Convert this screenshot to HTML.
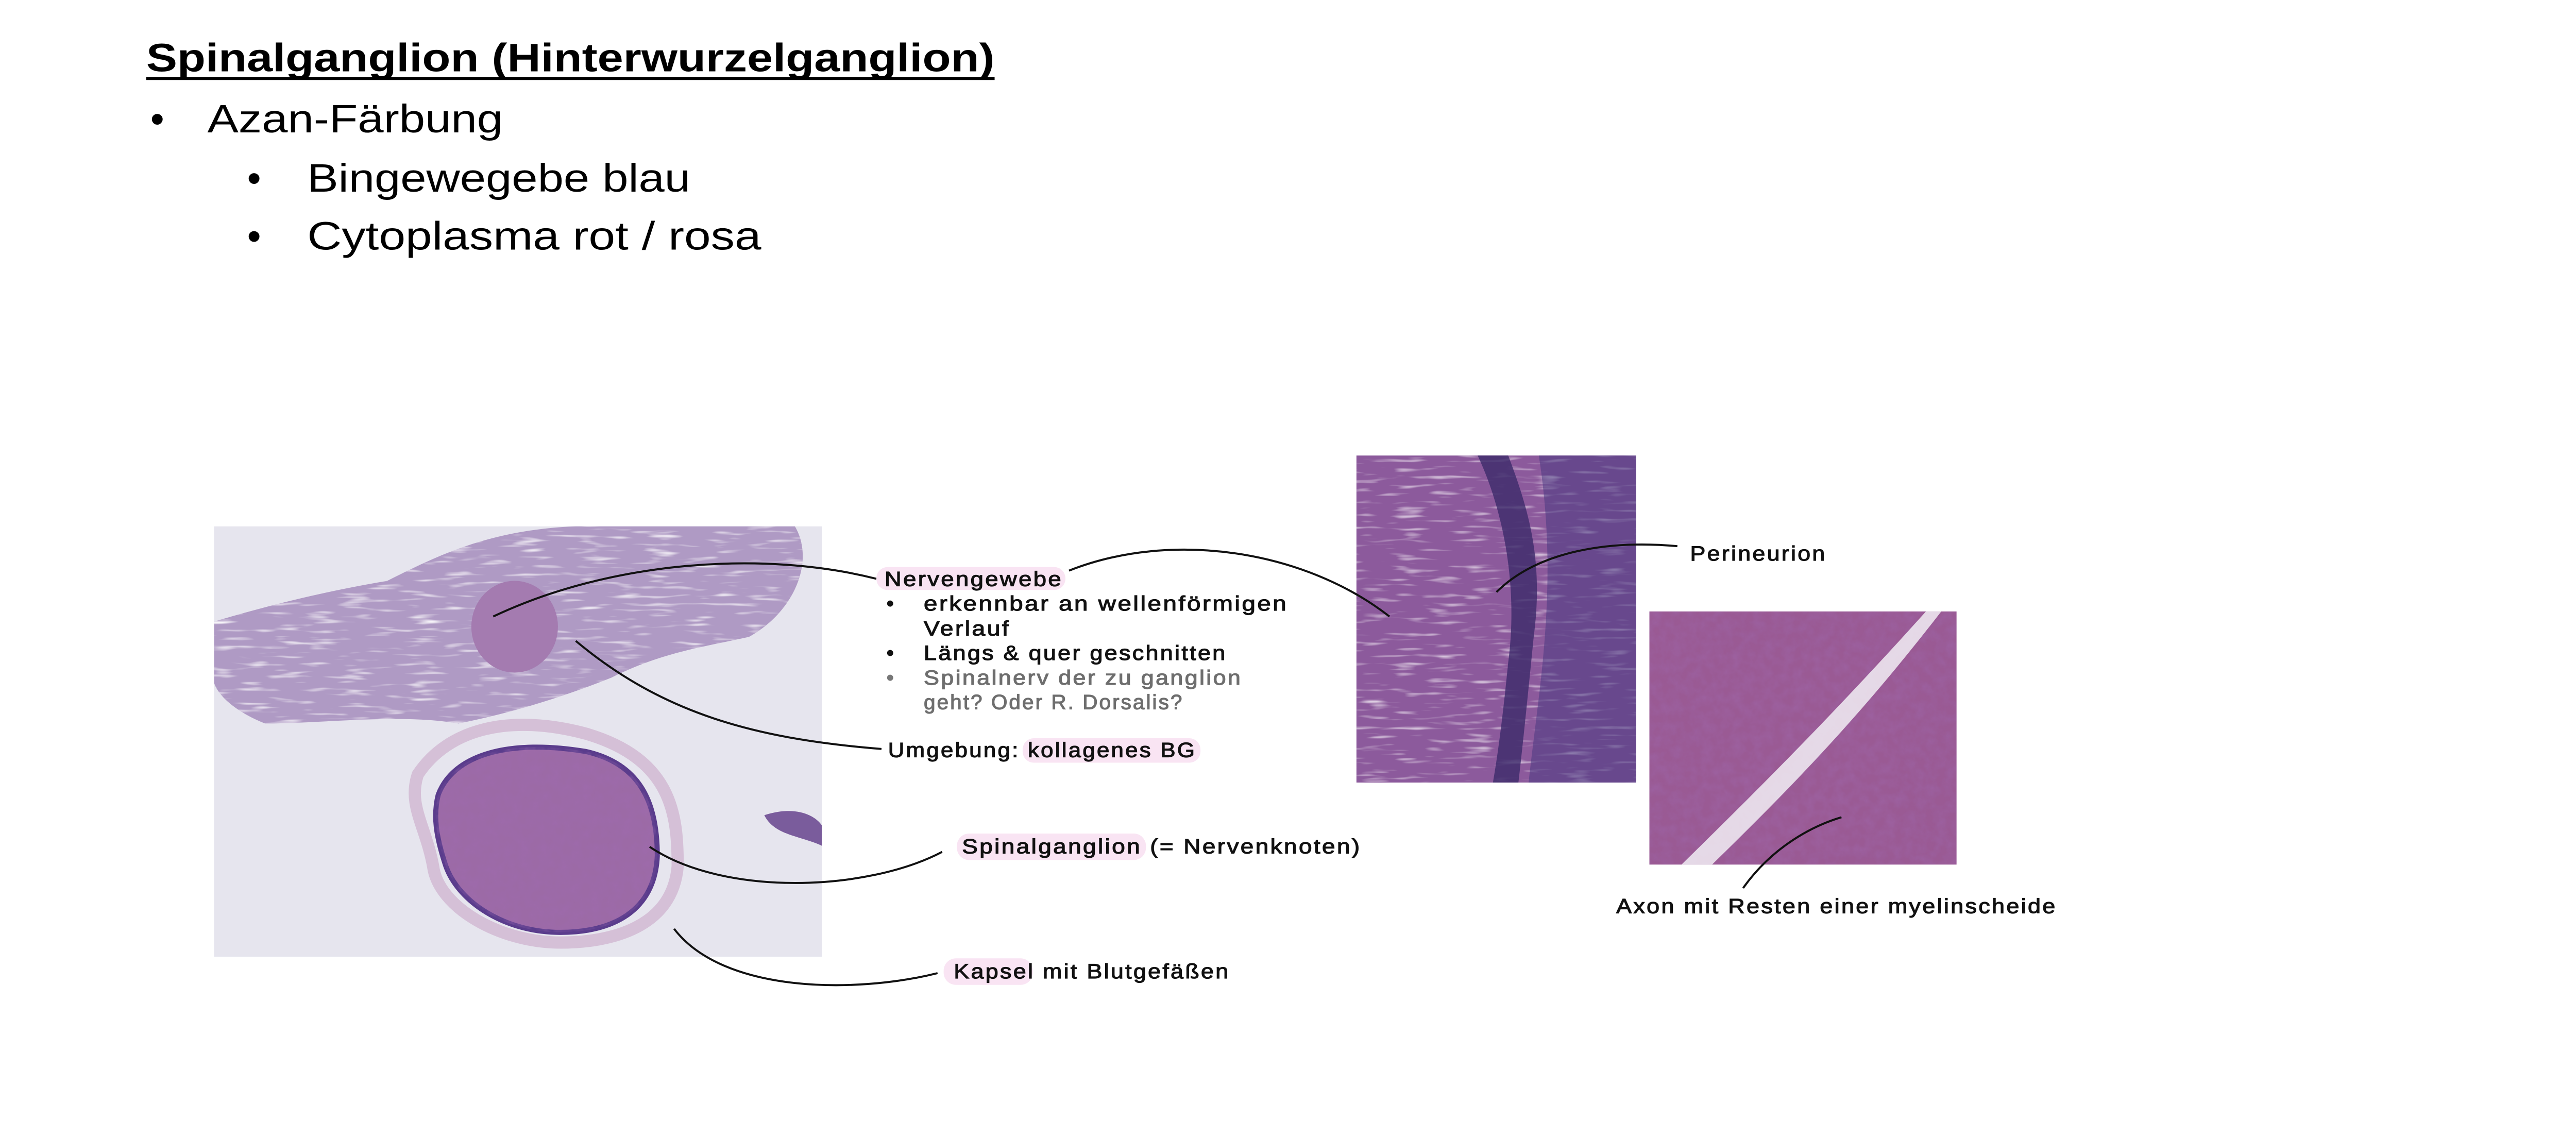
<!DOCTYPE html>
<html><head><meta charset="utf-8">
<style>
html,body{margin:0;padding:0;background:#fff;}
svg{display:block;}
.hand{font-family:"Liberation Sans",sans-serif;font-size:40px;letter-spacing:3px;fill:#111;stroke:#111;stroke-width:1.2px;}
</style></head>
<body>
<svg width="5034" height="2176" viewBox="0 0 5034 2176" xmlns="http://www.w3.org/2000/svg">
<defs>
  <filter id="tex" x="0" y="0" width="100%" height="100%">
    <feTurbulence type="fractalNoise" baseFrequency="0.05" numOctaves="3" seed="3"/>
    <feColorMatrix type="matrix" values="0 0 0 0 0.35  0 0 0 0 0.15  0 0 0 0 0.45  0 0 0 1.2 -0.35"/>
    <feComposite in2="SourceGraphic" operator="in"/>
  </filter>
  <filter id="streak" x="0" y="0" width="100%" height="100%">
    <feTurbulence type="fractalNoise" baseFrequency="0.015 0.12" numOctaves="2" seed="7"/>
    <feColorMatrix type="matrix" values="0 0 0 0 1  0 0 0 0 1  0 0 0 0 1  0 0 0 -3 1.3"/>
    <feComposite in2="SourceGraphic" operator="in"/>
  </filter>
  <clipPath id="c1"><rect x="420" y="1033" width="1193" height="845"/></clipPath>
  <clipPath id="c2"><rect x="2662" y="894" width="549" height="642"/></clipPath>
  <clipPath id="c3"><rect x="3237" y="1200" width="603" height="497"/></clipPath>
</defs>
<g transform="scale(0.989)">
<!-- Title and bullets -->
<text x="287" y="140" font-family="Liberation Sans, sans-serif" font-weight="bold" font-size="78" textLength="1665" lengthAdjust="spacingAndGlyphs" fill="#000">Spinalganglion (Hinterwurzelganglion)</text>
<rect x="287" y="151" width="1665" height="6" fill="#000"/>
<text x="295" y="260" font-family="Liberation Sans, sans-serif" font-size="78">•</text>
<text x="407" y="260" font-family="Liberation Sans, sans-serif" font-size="78" textLength="580" lengthAdjust="spacingAndGlyphs">Azan-Färbung</text>
<text x="485" y="376" font-family="Liberation Sans, sans-serif" font-size="78">•</text>
<text x="603" y="376" font-family="Liberation Sans, sans-serif" font-size="78" textLength="752" lengthAdjust="spacingAndGlyphs">Bingewegebe blau</text>
<text x="485" y="490" font-family="Liberation Sans, sans-serif" font-size="78">•</text>
<text x="603" y="490" font-family="Liberation Sans, sans-serif" font-size="78" textLength="891" lengthAdjust="spacingAndGlyphs">Cytoplasma rot / rosa</text>

<!-- Left micrograph -->
<g clip-path="url(#c1)">
  <rect x="420" y="1033" width="1193" height="845" fill="#e6e5ee"/>
  <path d="M420 1220 C520 1190 640 1160 760 1140 C860 1090 960 1040 1130 1033 L1560 1033 C1600 1100 1560 1200 1470 1250 C1380 1270 1300 1280 1200 1330 C1100 1370 1000 1400 900 1420 C780 1400 640 1420 520 1420 C470 1400 430 1370 420 1340 Z" fill="#8a68a8" opacity="0.6"/>
  <path d="M420 1220 C520 1190 640 1160 760 1140 C860 1090 960 1040 1130 1033 L1560 1033 C1600 1100 1560 1200 1470 1250 C1380 1270 1300 1280 1200 1330 C1100 1370 1000 1400 900 1420 C780 1400 640 1420 520 1420 C470 1400 430 1370 420 1340 Z" fill="#fff" filter="url(#streak)" opacity="0.9"/>
  <ellipse cx="1010" cy="1230" rx="85" ry="90" fill="#a47bb0"/>
  <path d="M820 1520 C880 1430 1000 1400 1150 1440 C1320 1490 1330 1600 1330 1700 C1320 1820 1200 1850 1100 1850 C980 1850 860 1780 850 1700 C835 1620 800 1580 820 1520 Z" fill="none" stroke="#c9a6c8" stroke-width="24" opacity="0.6"/>
  <path d="M860 1560 C890 1480 1000 1450 1150 1475 C1260 1500 1290 1580 1290 1680 C1285 1790 1200 1830 1100 1830 C990 1830 900 1770 875 1700 C855 1640 850 1600 860 1560 Z" fill="#9c6aa6" stroke="#5a3c8c" stroke-width="10"/>
  <path d="M860 1560 C890 1480 1000 1450 1150 1475 C1260 1500 1290 1580 1290 1680 C1285 1790 1200 1830 1100 1830 C990 1830 900 1770 875 1700 C855 1640 850 1600 860 1560 Z" fill="#000" filter="url(#tex)" opacity="0.5"/>
  <path d="M1500 1600 C1560 1580 1600 1600 1613 1620 L1613 1660 C1570 1640 1520 1640 1500 1600 Z" fill="#7a5c9c"/>
</g>

<!-- Middle micrograph -->
<g clip-path="url(#c2)">
  <rect x="2662" y="894" width="549" height="642" fill="#8c5a9c"/>
  <rect x="2662" y="894" width="549" height="642" fill="#fff" filter="url(#streak)" opacity="0.7"/>
  <path d="M2900 894 C2950 1000 2980 1150 2960 1300 C2950 1400 2940 1480 2930 1536 L2980 1536 C2990 1450 3000 1350 3010 1250 C3030 1100 3000 1000 2960 894 Z" fill="#3c2a6a" opacity="0.8"/>
  <path d="M3020 894 L3211 894 L3211 1536 L3000 1536 C3020 1350 3060 1150 3020 894 Z" fill="#4a3a82" opacity="0.55"/>
</g>

<!-- Right micrograph -->
<g clip-path="url(#c3)">
  <rect x="3237" y="1200" width="603" height="497" fill="#9a5a94"/>
  <rect x="3237" y="1200" width="603" height="497" fill="#000" filter="url(#tex)" opacity="0.5"/>
  <path d="M3300 1697 C3450 1550 3600 1400 3780 1200 L3810 1200 C3640 1420 3500 1560 3360 1697 Z" fill="#f2eef4" opacity="0.85"/>
</g>

<!-- Connector lines -->
<g fill="none" stroke="#111" stroke-width="4">
  <path d="M968 1210 C1200 1100 1500 1080 1720 1136"/>
  <path d="M1130 1258 C1300 1400 1480 1450 1730 1470"/>
  <path d="M2098 1120 C2300 1040 2560 1080 2727 1210"/>
  <path d="M2937 1162 C3020 1080 3160 1060 3292 1072"/>
  <path d="M1275 1662 C1420 1760 1700 1750 1849 1672"/>
  <path d="M1323 1823 C1420 1950 1680 1950 1840 1910"/>
  <path d="M3421 1743 C3480 1660 3560 1620 3614 1604"/>
</g>

<!-- Highlights -->
<g fill="#f9e4f3">
  <rect x="1720" y="1113" width="371" height="45" rx="22"/>
  <rect x="2007" y="1449" width="349" height="48" rx="22"/>
  <rect x="1878" y="1636" width="371" height="52" rx="24"/>
  <rect x="1852" y="1881" width="175" height="52" rx="24"/>
</g>

<!-- Annotations -->
<text class="hand" x="1736" y="1150" textLength="350" lengthAdjust="spacingAndGlyphs">Nervengewebe</text>
<text class="hand" x="1740" y="1198">•</text>
<text class="hand" x="1813" y="1198" textLength="715" lengthAdjust="spacingAndGlyphs">erkennbar an wellenförmigen</text>
<text class="hand" x="1813" y="1247" textLength="170" lengthAdjust="spacingAndGlyphs">Verlauf</text>
<text class="hand" x="1740" y="1295">•</text>
<text class="hand" x="1813" y="1295" textLength="595" lengthAdjust="spacingAndGlyphs">Längs &amp; quer geschnitten</text>
<text class="hand" x="1740" y="1344" style="fill:#777;stroke:#777">•</text>
<text class="hand" x="1813" y="1344" style="fill:#6e6e6e;stroke:#6e6e6e" textLength="625" lengthAdjust="spacingAndGlyphs">Spinalnerv der zu ganglion</text>
<text class="hand" x="1813" y="1392" style="fill:#6e6e6e;stroke:#6e6e6e" textLength="510" lengthAdjust="spacingAndGlyphs">geht? Oder R. Dorsalis?</text>
<text class="hand" x="1743" y="1486" textLength="605" lengthAdjust="spacingAndGlyphs">Umgebung: kollagenes BG</text>
<text class="hand" x="1888" y="1675" textLength="784" lengthAdjust="spacingAndGlyphs">Spinalganglion (= Nervenknoten)</text>
<text class="hand" x="1872" y="1920" textLength="542" lengthAdjust="spacingAndGlyphs">Kapsel mit Blutgefäßen</text>
<text class="hand" x="3317" y="1100" textLength="268" lengthAdjust="spacingAndGlyphs">Perineurion</text>
<text class="hand" x="3172" y="1792" textLength="865" lengthAdjust="spacingAndGlyphs">Axon mit Resten einer myelinscheide</text>
</g>
</svg>
</body></html>
